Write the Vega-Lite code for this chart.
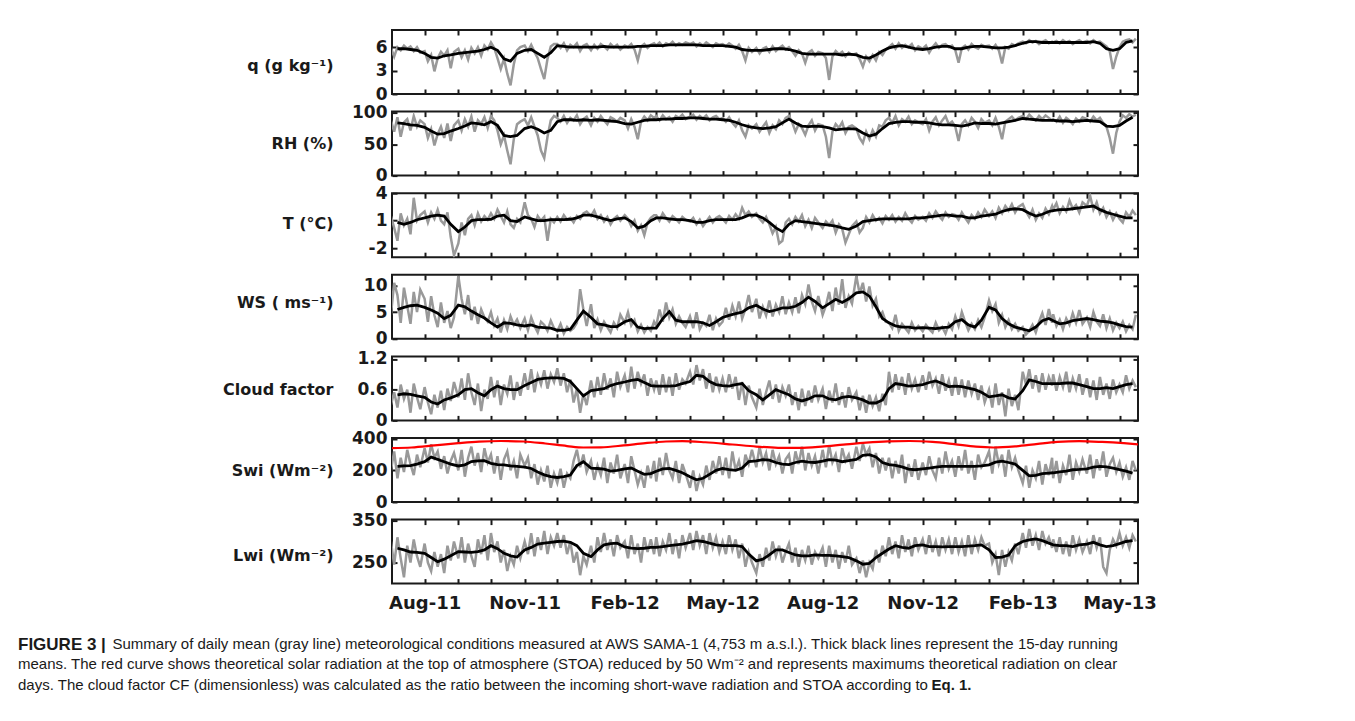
{
"$schema": "https://vega.github.io/schema/vega-lite/v6.json",
"background": "white",
"padding": {"left": 18, "top": 28, "right": 10, "bottom": 10},
"bounds": "flush",
"spacing": 17.6,
"title": {
 "text": "FIGURE 3 |",
 "subtitle": ["means. The red curve shows theoretical solar radiation at the top of atmosphere (STOA) reduced by 50 Wm\u207b\u00b2 and represents maximums theoretical radiation on clear", "days. The cloud factor CF (dimensionless) was calculated as the ratio between the incoming short-wave radiation and STOA according to"],
 "orient": "bottom", "anchor": "start", "frame": "group", "dx": -374, "offset": -56,
 "font": "Liberation Sans", "fontSize": 17, "fontWeight": "bold", "color": "#1a1a1a",
 "subtitleFont": "Liberation Sans", "subtitleFontSize": 15, "subtitleColor": "#1a1a1a", "subtitleLineHeight": 21, "subtitlePadding": 3
},
"datasets": {
"d": [
{"t":"2011-07-01","q":5.9,"rh":88,"ta":1.5,"ws":4.5,"cf":0.30,"sw":200,"lw":300},
{"t":"2011-07-04","q":4.8,"rh":70,"ta":0.2,"ws":10.5,"cf":0.55,"sw":320,"lw":245},
{"t":"2011-07-07","q":6.0,"rh":93,"ta":-1.2,"ws":8.2,"cf":0.25,"sw":150,"lw":310},
{"t":"2011-07-10","q":5.6,"rh":62,"ta":1.8,"ws":3.0,"cf":0.70,"sw":280,"lw":260},
{"t":"2011-07-13","q":6.2,"rh":85,"ta":0.5,"ws":9.6,"cf":0.42,"sw":190,"lw":215},
{"t":"2011-07-16","q":5.8,"rh":90,"ta":1.2,"ws":6.2,"cf":0.60,"sw":330,"lw":290},
{"t":"2011-07-19","q":6.1,"rh":72,"ta":-0.5,"ws":2.8,"cf":0.15,"sw":240,"lw":250},
{"t":"2011-07-22","q":5.5,"rh":95,"ta":3.5,"ws":8.8,"cf":0.72,"sw":170,"lw":305},
{"t":"2011-07-25","q":6.0,"rh":78,"ta":1.0,"ws":5.0,"cf":0.45,"sw":300,"lw":265},
{"t":"2011-07-28","q":5.3,"rh":88,"ta":1.6,"ws":9.2,"cf":0.22,"sw":220,"lw":240},
{"t":"2011-08-01","q":5.5,"rh":82,"ta":2.0,"ws":7.5,"cf":0.65,"sw":340,"lw":295},
{"t":"2011-08-04","q":4.2,"rh":60,"ta":0.8,"ws":3.2,"cf":0.35,"sw":250,"lw":250},
{"t":"2011-08-07","q":5.0,"rh":74,"ta":1.9,"ws":8.0,"cf":0.12,"sw":365,"lw":230},
{"t":"2011-08-10","q":2.9,"rh":48,"ta":1.2,"ws":4.4,"cf":0.50,"sw":280,"lw":275},
{"t":"2011-08-13","q":4.6,"rh":66,"ta":2.2,"ws":2.2,"cf":0.25,"sw":320,"lw":240},
{"t":"2011-08-16","q":5.4,"rh":78,"ta":1.0,"ws":6.8,"cf":0.58,"sw":210,"lw":270},
{"t":"2011-08-19","q":4.9,"rh":60,"ta":0.6,"ws":3.0,"cf":0.20,"sw":290,"lw":225},
{"t":"2011-08-22","q":5.6,"rh":83,"ta":1.9,"ws":5.2,"cf":0.62,"sw":180,"lw":290},
{"t":"2011-08-25","q":3.3,"rh":55,"ta":-0.8,"ws":2.0,"cf":0.38,"sw":260,"lw":255},
{"t":"2011-08-28","q":5.4,"rh":80,"ta":-2.8,"ws":4.0,"cf":0.75,"sw":310,"lw":300},
{"t":"2011-09-01","q":5.8,"rh":88,"ta":-1.5,"ws":11.8,"cf":0.45,"sw":200,"lw":260},
{"t":"2011-09-04","q":4.7,"rh":72,"ta":0.8,"ws":7.5,"cf":0.82,"sw":330,"lw":310},
{"t":"2011-09-07","q":5.6,"rh":90,"ta":-0.6,"ws":4.6,"cf":0.40,"sw":160,"lw":250},
{"t":"2011-09-10","q":4.4,"rh":78,"ta":1.2,"ws":8.2,"cf":0.92,"sw":280,"lw":295},
{"t":"2011-09-13","q":5.9,"rh":94,"ta":1.6,"ws":3.5,"cf":0.55,"sw":350,"lw":265},
{"t":"2011-09-16","q":5.2,"rh":70,"ta":0.5,"ws":6.0,"cf":0.30,"sw":230,"lw":240},
{"t":"2011-09-19","q":6.0,"rh":88,"ta":1.8,"ws":2.8,"cf":0.72,"sw":310,"lw":305},
{"t":"2011-09-22","q":4.9,"rh":82,"ta":0.9,"ws":5.5,"cf":0.18,"sw":190,"lw":270},
{"t":"2011-09-25","q":6.2,"rh":93,"ta":1.5,"ws":4.0,"cf":0.60,"sw":340,"lw":315},
{"t":"2011-09-28","q":5.7,"rh":76,"ta":1.1,"ws":3.2,"cf":0.42,"sw":250,"lw":255},
{"t":"2011-10-01","q":6.6,"rh":95,"ta":1.8,"ws":5.0,"cf":0.85,"sw":300,"lw":320},
{"t":"2011-10-04","q":5.9,"rh":88,"ta":1.2,"ws":2.5,"cf":0.45,"sw":180,"lw":275},
{"t":"2011-10-07","q":4.6,"rh":72,"ta":2.2,"ws":3.8,"cf":0.78,"sw":290,"lw":300},
{"t":"2011-10-10","q":3.2,"rh":50,"ta":1.5,"ws":1.2,"cf":0.30,"sw":140,"lw":250},
{"t":"2011-10-13","q":4.5,"rh":64,"ta":0.8,"ws":3.5,"cf":0.70,"sw":270,"lw":280},
{"t":"2011-10-16","q":2.6,"rh":40,"ta":2.0,"ws":1.8,"cf":0.52,"sw":320,"lw":230},
{"t":"2011-10-19","q":1.1,"rh":18,"ta":0.6,"ws":4.2,"cf":0.88,"sw":200,"lw":265},
{"t":"2011-10-22","q":3.8,"rh":58,"ta":0.2,"ws":2.6,"cf":0.40,"sw":260,"lw":245},
{"t":"2011-10-25","q":5.6,"rh":82,"ta":1.2,"ws":3.6,"cf":0.75,"sw":150,"lw":290},
{"t":"2011-10-28","q":6.0,"rh":86,"ta":0.8,"ws":2.0,"cf":0.48,"sw":300,"lw":260},
{"t":"2011-11-01","q":6.2,"rh":90,"ta":3.0,"ws":3.8,"cf":0.92,"sw":230,"lw":300},
{"t":"2011-11-04","q":5.5,"rh":80,"ta":1.6,"ws":1.6,"cf":0.60,"sw":280,"lw":270},
{"t":"2011-11-07","q":6.3,"rh":93,"ta":1.2,"ws":4.0,"cf":1.00,"sw":150,"lw":320},
{"t":"2011-11-10","q":5.4,"rh":78,"ta":0.3,"ws":2.4,"cf":0.55,"sw":240,"lw":265},
{"t":"2011-11-13","q":4.6,"rh":64,"ta":1.5,"ws":1.2,"cf":0.88,"sw":110,"lw":310},
{"t":"2011-11-16","q":3.2,"rh":40,"ta":1.0,"ws":3.2,"cf":0.70,"sw":200,"lw":280},
{"t":"2011-11-19","q":1.9,"rh":28,"ta":1.4,"ws":2.6,"cf":0.98,"sw":130,"lw":325},
{"t":"2011-11-22","q":4.5,"rh":62,"ta":-1.2,"ws":1.5,"cf":0.62,"sw":230,"lw":270},
{"t":"2011-11-25","q":6.1,"rh":88,"ta":1.2,"ws":3.4,"cf":0.90,"sw":90,"lw":310},
{"t":"2011-11-28","q":6.4,"rh":95,"ta":0.8,"ws":2.0,"cf":0.75,"sw":180,"lw":290},
{"t":"2011-12-01","q":6.4,"rh":92,"ta":1.4,"ws":1.4,"cf":1.02,"sw":120,"lw":320},
{"t":"2011-12-04","q":5.9,"rh":86,"ta":0.9,"ws":2.8,"cf":0.68,"sw":210,"lw":285},
{"t":"2011-12-07","q":6.5,"rh":95,"ta":1.6,"ws":1.0,"cf":0.92,"sw":90,"lw":315},
{"t":"2011-12-10","q":5.6,"rh":84,"ta":1.1,"ws":2.2,"cf":0.55,"sw":180,"lw":270},
{"t":"2011-12-13","q":6.3,"rh":92,"ta":1.3,"ws":1.5,"cf":0.80,"sw":150,"lw":300},
{"t":"2011-12-16","q":6.0,"rh":88,"ta":0.8,"ws":2.0,"cf":0.35,"sw":260,"lw":250},
{"t":"2011-12-19","q":6.5,"rh":96,"ta":1.5,"ws":3.0,"cf":0.62,"sw":330,"lw":275},
{"t":"2011-12-22","q":5.5,"rh":82,"ta":1.2,"ws":9.3,"cf":0.15,"sw":220,"lw":220},
{"t":"2011-12-25","q":6.2,"rh":90,"ta":1.8,"ws":5.5,"cf":0.52,"sw":300,"lw":265},
{"t":"2011-12-28","q":6.4,"rh":94,"ta":2.0,"ws":2.4,"cf":0.30,"sw":190,"lw":245},
{"t":"2012-01-01","q":5.6,"rh":80,"ta":1.5,"ws":6.5,"cf":0.78,"sw":260,"lw":290},
{"t":"2012-01-04","q":6.3,"rh":92,"ta":2.1,"ws":2.0,"cf":0.45,"sw":140,"lw":250},
{"t":"2012-01-07","q":5.8,"rh":86,"ta":1.2,"ws":3.6,"cf":0.85,"sw":230,"lw":310},
{"t":"2012-01-10","q":6.4,"rh":95,"ta":1.6,"ws":1.6,"cf":0.50,"sw":170,"lw":275},
{"t":"2012-01-13","q":6.1,"rh":88,"ta":0.9,"ws":3.2,"cf":0.92,"sw":280,"lw":320},
{"t":"2012-01-16","q":5.7,"rh":82,"ta":1.4,"ws":2.2,"cf":0.60,"sw":120,"lw":280},
{"t":"2012-01-19","q":6.4,"rh":93,"ta":0.6,"ws":1.2,"cf":0.82,"sw":250,"lw":305},
{"t":"2012-01-22","q":6.0,"rh":90,"ta":1.2,"ws":3.0,"cf":0.45,"sw":180,"lw":265},
{"t":"2012-01-25","q":6.3,"rh":86,"ta":1.5,"ws":2.0,"cf":0.95,"sw":300,"lw":315},
{"t":"2012-01-28","q":5.7,"rh":92,"ta":1.0,"ws":4.5,"cf":0.65,"sw":150,"lw":285},
{"t":"2012-02-01","q":6.2,"rh":88,"ta":1.6,"ws":3.0,"cf":0.88,"sw":240,"lw":300},
{"t":"2012-02-04","q":6.0,"rh":75,"ta":1.2,"ws":5.0,"cf":0.55,"sw":120,"lw":260},
{"t":"2012-02-07","q":6.4,"rh":90,"ta":0.4,"ws":2.5,"cf":1.05,"sw":290,"lw":315},
{"t":"2012-02-10","q":5.7,"rh":78,"ta":1.0,"ws":3.5,"cf":0.62,"sw":200,"lw":270},
{"t":"2012-02-13","q":4.3,"rh":58,"ta":-0.1,"ws":1.4,"cf":0.95,"sw":110,"lw":295},
{"t":"2012-02-16","q":6.1,"rh":86,"ta":0.5,"ws":2.6,"cf":0.72,"sw":180,"lw":250},
{"t":"2012-02-19","q":6.4,"rh":94,"ta":-0.6,"ws":1.2,"cf":0.90,"sw":90,"lw":310},
{"t":"2012-02-22","q":5.9,"rh":88,"ta":0.8,"ws":2.2,"cf":0.48,"sw":230,"lw":275},
{"t":"2012-02-25","q":6.3,"rh":96,"ta":1.3,"ws":1.5,"cf":0.82,"sw":150,"lw":305},
{"t":"2012-02-28","q":6.5,"rh":92,"ta":1.6,"ws":3.2,"cf":0.60,"sw":260,"lw":270},
{"t":"2012-03-01","q":6.2,"rh":95,"ta":1.6,"ws":2.4,"cf":0.78,"sw":130,"lw":310},
{"t":"2012-03-04","q":6.6,"rh":88,"ta":1.0,"ws":5.5,"cf":0.50,"sw":280,"lw":265},
{"t":"2012-03-07","q":6.1,"rh":96,"ta":1.8,"ws":3.2,"cf":0.90,"sw":170,"lw":300},
{"t":"2012-03-10","q":6.5,"rh":90,"ta":1.3,"ws":6.8,"cf":0.55,"sw":310,"lw":280},
{"t":"2012-03-13","q":6.3,"rh":93,"ta":0.9,"ws":4.0,"cf":0.85,"sw":200,"lw":320},
{"t":"2012-03-16","q":6.7,"rh":86,"ta":1.5,"ws":5.5,"cf":0.48,"sw":150,"lw":270},
{"t":"2012-03-19","q":6.2,"rh":95,"ta":1.2,"ws":2.8,"cf":0.92,"sw":260,"lw":305},
{"t":"2012-03-22","q":6.5,"rh":92,"ta":0.8,"ws":4.2,"cf":0.60,"sw":120,"lw":260},
{"t":"2012-03-25","q":6.3,"rh":97,"ta":1.4,"ws":3.0,"cf":0.80,"sw":240,"lw":315},
{"t":"2012-03-28","q":6.6,"rh":90,"ta":1.1,"ws":2.2,"cf":0.72,"sw":180,"lw":285},
{"t":"2012-04-01","q":6.4,"rh":94,"ta":0.9,"ws":4.2,"cf":0.95,"sw":90,"lw":320},
{"t":"2012-04-04","q":6.6,"rh":97,"ta":1.3,"ws":2.0,"cf":0.70,"sw":200,"lw":280},
{"t":"2012-04-07","q":6.1,"rh":89,"ta":0.6,"ws":5.0,"cf":1.08,"sw":70,"lw":325},
{"t":"2012-04-10","q":6.5,"rh":95,"ta":1.1,"ws":1.8,"cf":0.78,"sw":160,"lw":290},
{"t":"2012-04-13","q":6.2,"rh":91,"ta":0.4,"ws":3.0,"cf":1.00,"sw":110,"lw":315},
{"t":"2012-04-16","q":6.6,"rh":96,"ta":0.9,"ws":2.4,"cf":0.62,"sw":230,"lw":270},
{"t":"2012-04-19","q":6.3,"rh":88,"ta":1.4,"ws":4.5,"cf":0.92,"sw":140,"lw":320},
{"t":"2012-04-22","q":6.0,"rh":93,"ta":0.8,"ws":1.6,"cf":0.55,"sw":260,"lw":285},
{"t":"2012-04-25","q":6.5,"rh":95,"ta":1.3,"ws":3.8,"cf":0.85,"sw":180,"lw":310},
{"t":"2012-04-28","q":6.3,"rh":90,"ta":1.5,"ws":2.5,"cf":0.60,"sw":290,"lw":275},
{"t":"2012-05-01","q":6.4,"rh":92,"ta":1.2,"ws":3.2,"cf":0.82,"sw":170,"lw":300},
{"t":"2012-05-04","q":6.1,"rh":86,"ta":0.8,"ws":5.8,"cf":0.55,"sw":280,"lw":270},
{"t":"2012-05-07","q":6.5,"rh":93,"ta":1.5,"ws":3.6,"cf":0.90,"sw":150,"lw":315},
{"t":"2012-05-10","q":6.2,"rh":84,"ta":1.1,"ws":6.2,"cf":0.62,"sw":320,"lw":280},
{"t":"2012-05-13","q":5.8,"rh":78,"ta":1.7,"ws":4.2,"cf":0.85,"sw":200,"lw":305},
{"t":"2012-05-16","q":6.3,"rh":88,"ta":1.2,"ws":7.0,"cf":0.40,"sw":260,"lw":260},
{"t":"2012-05-19","q":5.5,"rh":72,"ta":2.4,"ws":3.8,"cf":0.75,"sw":160,"lw":295},
{"t":"2012-05-22","q":4.3,"rh":62,"ta":1.6,"ws":5.6,"cf":0.30,"sw":300,"lw":240},
{"t":"2012-05-25","q":5.9,"rh":80,"ta":2.0,"ws":8.2,"cf":0.68,"sw":240,"lw":275},
{"t":"2012-05-28","q":5.4,"rh":75,"ta":1.4,"ws":5.0,"cf":0.45,"sw":330,"lw":250},
{"t":"2012-06-01","q":5.9,"rh":82,"ta":1.8,"ws":7.5,"cf":0.25,"sw":220,"lw":225},
{"t":"2012-06-04","q":5.2,"rh":70,"ta":1.2,"ws":3.8,"cf":0.62,"sw":350,"lw":270},
{"t":"2012-06-07","q":5.8,"rh":78,"ta":0.8,"ws":6.0,"cf":0.30,"sw":250,"lw":240},
{"t":"2012-06-10","q":6.0,"rh":85,"ta":1.4,"ws":4.4,"cf":0.55,"sw":310,"lw":285},
{"t":"2012-06-13","q":5.4,"rh":68,"ta":0.6,"ws":7.2,"cf":0.78,"sw":200,"lw":255},
{"t":"2012-06-16","q":6.1,"rh":80,"ta":-0.4,"ws":4.2,"cf":0.42,"sw":330,"lw":300},
{"t":"2012-06-19","q":5.5,"rh":74,"ta":0.3,"ws":6.4,"cf":0.70,"sw":240,"lw":265},
{"t":"2012-06-22","q":5.9,"rh":88,"ta":-1.5,"ws":5.0,"cf":0.35,"sw":290,"lw":290},
{"t":"2012-06-25","q":6.2,"rh":82,"ta":-1.2,"ws":8.0,"cf":0.65,"sw":180,"lw":250},
{"t":"2012-06-28","q":5.7,"rh":92,"ta":0.8,"ws":4.6,"cf":0.48,"sw":270,"lw":275},
{"t":"2012-07-01","q":6.0,"rh":95,"ta":1.2,"ws":6.8,"cf":0.70,"sw":300,"lw":295},
{"t":"2012-07-04","q":5.5,"rh":85,"ta":0.6,"ws":5.0,"cf":0.30,"sw":180,"lw":250},
{"t":"2012-07-07","q":4.9,"rh":70,"ta":1.4,"ws":7.8,"cf":0.55,"sw":320,"lw":285},
{"t":"2012-07-10","q":5.6,"rh":82,"ta":0.9,"ws":4.8,"cf":0.20,"sw":240,"lw":240},
{"t":"2012-07-13","q":5.2,"rh":76,"ta":1.6,"ws":8.2,"cf":0.62,"sw":350,"lw":280},
{"t":"2012-07-16","q":4.0,"rh":65,"ta":0.4,"ws":6.5,"cf":0.28,"sw":200,"lw":255},
{"t":"2012-07-19","q":5.3,"rh":80,"ta":1.1,"ws":10.2,"cf":0.58,"sw":310,"lw":290},
{"t":"2012-07-22","q":5.6,"rh":88,"ta":0.2,"ws":7.0,"cf":0.35,"sw":230,"lw":245},
{"t":"2012-07-25","q":4.9,"rh":72,"ta":1.3,"ws":5.2,"cf":0.68,"sw":290,"lw":275},
{"t":"2012-07-28","q":5.4,"rh":82,"ta":0.8,"ws":8.0,"cf":0.40,"sw":180,"lw":260},
{"t":"2012-08-01","q":5.2,"rh":80,"ta":0.2,"ws":4.5,"cf":0.62,"sw":330,"lw":285},
{"t":"2012-08-04","q":4.6,"rh":62,"ta":0.9,"ws":6.2,"cf":0.22,"sw":220,"lw":240},
{"t":"2012-08-07","q":1.8,"rh":28,"ta":0.5,"ws":8.8,"cf":0.58,"sw":360,"lw":290},
{"t":"2012-08-10","q":4.8,"rh":70,"ta":1.0,"ws":5.2,"cf":0.35,"sw":250,"lw":250},
{"t":"2012-08-13","q":5.5,"rh":82,"ta":-0.3,"ws":9.6,"cf":0.72,"sw":300,"lw":280},
{"t":"2012-08-16","q":5.1,"rh":76,"ta":0.6,"ws":6.4,"cf":0.30,"sw":190,"lw":235},
{"t":"2012-08-19","q":5.4,"rh":85,"ta":0.1,"ws":11.2,"cf":0.55,"sw":340,"lw":275},
{"t":"2012-08-22","q":4.8,"rh":68,"ta":-1.4,"ws":5.8,"cf":0.25,"sw":260,"lw":250},
{"t":"2012-08-25","q":5.3,"rh":78,"ta":-0.5,"ws":8.0,"cf":0.65,"sw":300,"lw":290},
{"t":"2012-08-28","q":5.0,"rh":80,"ta":0.4,"ws":6.6,"cf":0.40,"sw":210,"lw":245},
{"t":"2012-09-01","q":5.2,"rh":75,"ta":0.9,"ws":11.8,"cf":0.55,"sw":350,"lw":260},
{"t":"2012-09-04","q":4.5,"rh":60,"ta":-0.3,"ws":8.5,"cf":0.20,"sw":260,"lw":225},
{"t":"2012-09-07","q":3.5,"rh":52,"ta":0.2,"ws":10.5,"cf":0.48,"sw":370,"lw":255},
{"t":"2012-09-10","q":4.8,"rh":70,"ta":1.4,"ws":7.0,"cf":0.15,"sw":300,"lw":215},
{"t":"2012-09-13","q":4.2,"rh":58,"ta":0.8,"ws":9.8,"cf":0.50,"sw":340,"lw":250},
{"t":"2012-09-16","q":5.0,"rh":72,"ta":1.6,"ws":6.2,"cf":0.28,"sw":220,"lw":235},
{"t":"2012-09-19","q":4.3,"rh":62,"ta":1.0,"ws":7.5,"cf":0.45,"sw":310,"lw":280},
{"t":"2012-09-22","q":5.4,"rh":80,"ta":1.3,"ws":4.2,"cf":0.18,"sw":180,"lw":250},
{"t":"2012-09-25","q":5.0,"rh":78,"ta":0.7,"ws":5.0,"cf":0.52,"sw":280,"lw":290},
{"t":"2012-09-28","q":5.7,"rh":88,"ta":1.5,"ws":3.2,"cf":0.30,"sw":200,"lw":265},
{"t":"2012-10-01","q":6.0,"rh":92,"ta":1.1,"ws":3.0,"cf":0.95,"sw":280,"lw":310},
{"t":"2012-10-04","q":6.4,"rh":84,"ta":1.6,"ws":2.0,"cf":0.55,"sw":150,"lw":270},
{"t":"2012-10-07","q":5.8,"rh":95,"ta":0.9,"ws":4.5,"cf":0.90,"sw":260,"lw":300},
{"t":"2012-10-10","q":6.5,"rh":80,"ta":1.4,"ws":1.5,"cf":0.60,"sw":180,"lw":260},
{"t":"2012-10-13","q":5.9,"rh":90,"ta":1.0,"ws":2.8,"cf":0.85,"sw":300,"lw":315},
{"t":"2012-10-16","q":6.3,"rh":86,"ta":1.8,"ws":2.0,"cf":0.50,"sw":120,"lw":275},
{"t":"2012-10-19","q":6.0,"rh":94,"ta":1.2,"ws":1.2,"cf":0.92,"sw":240,"lw":305},
{"t":"2012-10-22","q":6.4,"rh":82,"ta":0.8,"ws":3.0,"cf":0.62,"sw":160,"lw":265},
{"t":"2012-10-25","q":5.6,"rh":88,"ta":1.5,"ws":1.6,"cf":0.80,"sw":270,"lw":310},
{"t":"2012-10-28","q":6.1,"rh":85,"ta":1.1,"ws":2.4,"cf":0.55,"sw":140,"lw":280},
{"t":"2012-11-01","q":5.8,"rh":82,"ta":1.4,"ws":1.4,"cf":0.88,"sw":250,"lw":305},
{"t":"2012-11-04","q":6.2,"rh":90,"ta":1.0,"ws":2.6,"cf":0.60,"sw":170,"lw":270},
{"t":"2012-11-07","q":5.3,"rh":72,"ta":1.8,"ws":1.8,"cf":0.95,"sw":290,"lw":315},
{"t":"2012-11-10","q":6.0,"rh":86,"ta":1.3,"ws":1.2,"cf":0.68,"sw":200,"lw":275},
{"t":"2012-11-13","q":6.5,"rh":93,"ta":2.0,"ws":3.0,"cf":0.82,"sw":150,"lw":300},
{"t":"2012-11-16","q":5.9,"rh":80,"ta":1.5,"ws":1.6,"cf":0.52,"sw":280,"lw":265},
{"t":"2012-11-19","q":6.3,"rh":88,"ta":1.1,"ws":2.2,"cf":0.90,"sw":180,"lw":310},
{"t":"2012-11-22","q":6.4,"rh":95,"ta":1.9,"ws":1.0,"cf":0.58,"sw":320,"lw":280},
{"t":"2012-11-25","q":6.0,"rh":82,"ta":1.4,"ws":2.8,"cf":0.78,"sw":210,"lw":305},
{"t":"2012-11-28","q":6.2,"rh":86,"ta":1.7,"ws":1.8,"cf":0.48,"sw":260,"lw":270},
{"t":"2012-12-01","q":5.6,"rh":78,"ta":1.6,"ws":4.2,"cf":0.85,"sw":160,"lw":310},
{"t":"2012-12-04","q":4.0,"rh":55,"ta":1.1,"ws":2.4,"cf":0.50,"sw":290,"lw":275},
{"t":"2012-12-07","q":5.9,"rh":82,"ta":1.9,"ws":5.0,"cf":0.80,"sw":200,"lw":300},
{"t":"2012-12-10","q":6.2,"rh":88,"ta":1.3,"ws":3.2,"cf":0.45,"sw":330,"lw":265},
{"t":"2012-12-13","q":5.7,"rh":80,"ta":0.8,"ws":1.6,"cf":0.78,"sw":180,"lw":315},
{"t":"2012-12-16","q":6.4,"rh":92,"ta":1.6,"ws":2.8,"cf":0.52,"sw":260,"lw":270},
{"t":"2012-12-19","q":6.0,"rh":86,"ta":1.2,"ws":1.8,"cf":0.72,"sw":140,"lw":305},
{"t":"2012-12-22","q":5.8,"rh":76,"ta":1.9,"ws":3.5,"cf":0.40,"sw":300,"lw":280},
{"t":"2012-12-25","q":6.3,"rh":90,"ta":1.4,"ws":2.2,"cf":0.68,"sw":220,"lw":310},
{"t":"2012-12-28","q":6.1,"rh":84,"ta":2.2,"ws":4.0,"cf":0.35,"sw":250,"lw":290},
{"t":"2013-01-01","q":6.2,"rh":88,"ta":1.5,"ws":7.2,"cf":0.60,"sw":320,"lw":295},
{"t":"2013-01-04","q":5.8,"rh":80,"ta":2.0,"ws":5.2,"cf":0.25,"sw":180,"lw":250},
{"t":"2013-01-07","q":6.3,"rh":92,"ta":1.3,"ws":6.5,"cf":0.72,"sw":350,"lw":270},
{"t":"2013-01-10","q":5.6,"rh":78,"ta":2.4,"ws":3.0,"cf":0.30,"sw":240,"lw":220},
{"t":"2013-01-13","q":3.9,"rh":58,"ta":1.8,"ws":4.5,"cf":0.55,"sw":300,"lw":280},
{"t":"2013-01-16","q":6.0,"rh":86,"ta":2.6,"ws":2.2,"cf":0.08,"sw":160,"lw":240},
{"t":"2013-01-19","q":5.8,"rh":90,"ta":2.1,"ws":3.5,"cf":0.62,"sw":330,"lw":275},
{"t":"2013-01-22","q":6.4,"rh":94,"ta":2.8,"ws":1.8,"cf":0.28,"sw":220,"lw":255},
{"t":"2013-01-25","q":6.2,"rh":88,"ta":1.9,"ws":2.8,"cf":0.50,"sw":280,"lw":295},
{"t":"2013-01-28","q":6.5,"rh":92,"ta":2.5,"ws":1.5,"cf":0.20,"sw":200,"lw":270},
{"t":"2013-02-01","q":6.7,"rh":95,"ta":2.8,"ws":2.2,"cf":0.95,"sw":120,"lw":320},
{"t":"2013-02-04","q":6.5,"rh":90,"ta":2.0,"ws":0.8,"cf":0.70,"sw":230,"lw":285},
{"t":"2013-02-07","q":6.9,"rh":97,"ta":1.4,"ws":1.5,"cf":1.00,"sw":90,"lw":330},
{"t":"2013-02-10","q":6.6,"rh":92,"ta":2.2,"ws":2.6,"cf":0.62,"sw":200,"lw":290},
{"t":"2013-02-13","q":6.8,"rh":88,"ta":1.1,"ws":1.2,"cf":0.88,"sw":150,"lw":315},
{"t":"2013-02-16","q":6.4,"rh":95,"ta":1.8,"ws":3.2,"cf":0.55,"sw":260,"lw":280},
{"t":"2013-02-19","q":6.7,"rh":90,"ta":1.3,"ws":4.8,"cf":0.92,"sw":110,"lw":325},
{"t":"2013-02-22","q":6.9,"rh":96,"ta":2.3,"ws":2.6,"cf":0.60,"sw":240,"lw":295},
{"t":"2013-02-25","q":6.5,"rh":92,"ta":1.7,"ws":5.6,"cf":0.85,"sw":170,"lw":310},
{"t":"2013-02-28","q":6.7,"rh":88,"ta":2.6,"ws":3.0,"cf":0.68,"sw":280,"lw":285},
{"t":"2013-03-01","q":6.6,"rh":90,"ta":2.2,"ws":4.6,"cf":0.90,"sw":150,"lw":305},
{"t":"2013-03-04","q":6.8,"rh":86,"ta":2.9,"ws":2.4,"cf":0.58,"sw":260,"lw":275},
{"t":"2013-03-07","q":6.5,"rh":94,"ta":1.8,"ws":3.6,"cf":0.85,"sw":120,"lw":310},
{"t":"2013-03-10","q":6.9,"rh":84,"ta":2.5,"ws":1.8,"cf":0.65,"sw":230,"lw":270},
{"t":"2013-03-13","q":6.6,"rh":92,"ta":2.0,"ws":3.8,"cf":0.95,"sw":170,"lw":300},
{"t":"2013-03-16","q":6.8,"rh":88,"ta":3.2,"ws":2.6,"cf":0.55,"sw":300,"lw":265},
{"t":"2013-03-19","q":6.4,"rh":82,"ta":2.3,"ws":4.8,"cf":0.82,"sw":140,"lw":315},
{"t":"2013-03-22","q":6.7,"rh":91,"ta":2.7,"ws":3.0,"cf":0.62,"sw":250,"lw":280},
{"t":"2013-03-25","q":6.9,"rh":86,"ta":1.9,"ws":5.4,"cf":0.90,"sw":190,"lw":305},
{"t":"2013-03-28","q":6.6,"rh":93,"ta":3.0,"ws":2.8,"cf":0.50,"sw":270,"lw":275},
{"t":"2013-04-01","q":6.8,"rh":90,"ta":2.6,"ws":4.0,"cf":0.82,"sw":180,"lw":300},
{"t":"2013-04-04","q":6.5,"rh":86,"ta":3.7,"ws":2.2,"cf":0.45,"sw":300,"lw":270},
{"t":"2013-04-07","q":6.9,"rh":94,"ta":2.2,"ws":5.0,"cf":0.78,"sw":150,"lw":315},
{"t":"2013-04-10","q":6.6,"rh":88,"ta":3.0,"ws":3.2,"cf":0.40,"sw":270,"lw":285},
{"t":"2013-04-13","q":6.7,"rh":92,"ta":1.8,"ws":2.4,"cf":0.85,"sw":200,"lw":310},
{"t":"2013-04-16","q":6.4,"rh":84,"ta":2.4,"ws":4.6,"cf":0.50,"sw":320,"lw":240},
{"t":"2013-04-19","q":6.1,"rh":78,"ta":1.4,"ws":2.0,"cf":0.72,"sw":160,"lw":225},
{"t":"2013-04-22","q":5.5,"rh":60,"ta":2.0,"ws":3.8,"cf":0.42,"sw":240,"lw":280},
{"t":"2013-04-25","q":3.2,"rh":35,"ta":1.1,"ws":1.6,"cf":0.80,"sw":280,"lw":305},
{"t":"2013-04-28","q":4.8,"rh":68,"ta":1.8,"ws":3.0,"cf":0.55,"sw":190,"lw":290},
{"t":"2013-05-01","q":6.0,"rh":86,"ta":1.2,"ws":2.0,"cf":0.70,"sw":250,"lw":320},
{"t":"2013-05-04","q":6.7,"rh":96,"ta":0.8,"ws":3.2,"cf":0.55,"sw":160,"lw":290},
{"t":"2013-05-07","q":6.9,"rh":92,"ta":1.9,"ws":1.4,"cf":0.88,"sw":220,"lw":310},
{"t":"2013-05-10","q":7.0,"rh":98,"ta":1.4,"ws":2.6,"cf":0.62,"sw":140,"lw":285},
{"t":"2013-05-13","q":6.6,"rh":94,"ta":2.1,"ws":1.8,"cf":0.78,"sw":260,"lw":315},
{"t":"2013-05-16","q":7.1,"rh":97,"ta":1.6,"ws":4.5,"cf":0.65,"sw":200,"lw":300}
],
"m": [
{"t":"2011-07-07","q":5.8,"rh":84,"ta":0.8,"ws":5.5,"cf":0.50,"sw":226,"lw":284},
{"t":"2011-07-13","q":5.8,"rh":83,"ta":0.6,"ws":5.9,"cf":0.52,"sw":228,"lw":280},
{"t":"2011-07-19","q":5.7,"rh":81,"ta":0.8,"ws":6.2,"cf":0.51,"sw":230,"lw":275},
{"t":"2011-07-25","q":5.6,"rh":80,"ta":1.1,"ws":6.3,"cf":0.48,"sw":240,"lw":274},
{"t":"2011-08-01","q":5.2,"rh":77,"ta":1.3,"ws":5.9,"cf":0.45,"sw":255,"lw":272},
{"t":"2011-08-07","q":4.7,"rh":71,"ta":1.5,"ws":5.4,"cf":0.36,"sw":284,"lw":262},
{"t":"2011-08-13","q":4.6,"rh":66,"ta":1.6,"ws":4.8,"cf":0.32,"sw":270,"lw":252},
{"t":"2011-08-19","q":4.9,"rh":67,"ta":1.5,"ws":3.8,"cf":0.40,"sw":255,"lw":258},
{"t":"2011-08-25","q":5.0,"rh":71,"ta":0.6,"ws":4.4,"cf":0.44,"sw":240,"lw":266},
{"t":"2011-09-01","q":5.2,"rh":75,"ta":-0.2,"ws":6.3,"cf":0.50,"sw":228,"lw":276},
{"t":"2011-09-07","q":5.3,"rh":79,"ta":0.3,"ws":6.0,"cf":0.60,"sw":235,"lw":275},
{"t":"2011-09-13","q":5.4,"rh":84,"ta":1.0,"ws":5.2,"cf":0.62,"sw":256,"lw":274},
{"t":"2011-09-19","q":5.5,"rh":83,"ta":1.1,"ws":4.5,"cf":0.54,"sw":260,"lw":276},
{"t":"2011-09-25","q":5.7,"rh":81,"ta":1.1,"ws":3.9,"cf":0.48,"sw":262,"lw":280},
{"t":"2011-10-01","q":6.0,"rh":86,"ta":1.15,"ws":3.0,"cf":0.60,"sw":245,"lw":290},
{"t":"2011-10-07","q":5.6,"rh":80,"ta":1.5,"ws":2.2,"cf":0.67,"sw":237,"lw":283},
{"t":"2011-10-13","q":4.5,"rh":64,"ta":1.6,"ws":3.0,"cf":0.62,"sw":235,"lw":272},
{"t":"2011-10-19","q":4.2,"rh":62,"ta":1.0,"ws":2.9,"cf":0.60,"sw":228,"lw":266},
{"t":"2011-10-25","q":5.2,"rh":64,"ta":0.9,"ws":2.6,"cf":0.60,"sw":226,"lw":263},
{"t":"2011-11-01","q":5.6,"rh":75,"ta":1.4,"ws":2.4,"cf":0.68,"sw":220,"lw":280},
{"t":"2011-11-07","q":5.7,"rh":78,"ta":1.2,"ws":2.6,"cf":0.74,"sw":212,"lw":286},
{"t":"2011-11-13","q":5.2,"rh":74,"ta":1.0,"ws":2.2,"cf":0.80,"sw":190,"lw":294},
{"t":"2011-11-19","q":4.7,"rh":68,"ta":1.0,"ws":2.1,"cf":0.82,"sw":172,"lw":296},
{"t":"2011-11-25","q":5.3,"rh":72,"ta":1.1,"ws":2.0,"cf":0.83,"sw":160,"lw":298},
{"t":"2011-12-01","q":6.2,"rh":86,"ta":1.1,"ws":1.6,"cf":0.83,"sw":155,"lw":300},
{"t":"2011-12-07","q":6.1,"rh":89,"ta":1.1,"ws":1.6,"cf":0.82,"sw":160,"lw":301},
{"t":"2011-12-13","q":6.0,"rh":89,"ta":1.15,"ws":1.8,"cf":0.76,"sw":170,"lw":298},
{"t":"2011-12-19","q":6.0,"rh":88,"ta":1.3,"ws":3.5,"cf":0.62,"sw":230,"lw":290},
{"t":"2011-12-25","q":6.0,"rh":89,"ta":1.6,"ws":5.2,"cf":0.48,"sw":255,"lw":272},
{"t":"2012-01-01","q":6.0,"rh":88,"ta":1.6,"ws":4.0,"cf":0.58,"sw":215,"lw":264},
{"t":"2012-01-07","q":6.0,"rh":89,"ta":1.4,"ws":2.8,"cf":0.60,"sw":212,"lw":280},
{"t":"2012-01-13","q":6.1,"rh":88,"ta":1.2,"ws":2.6,"cf":0.62,"sw":208,"lw":292},
{"t":"2012-01-19","q":6.0,"rh":87,"ta":1.0,"ws":2.3,"cf":0.68,"sw":195,"lw":295},
{"t":"2012-01-25","q":6.0,"rh":86,"ta":1.2,"ws":2.3,"cf":0.72,"sw":200,"lw":296},
{"t":"2012-02-01","q":6.0,"rh":83,"ta":1.3,"ws":3.2,"cf":0.75,"sw":210,"lw":287},
{"t":"2012-02-07","q":6.0,"rh":82,"ta":0.9,"ws":3.6,"cf":0.78,"sw":215,"lw":284},
{"t":"2012-02-13","q":6.1,"rh":85,"ta":0.2,"ws":2.2,"cf":0.80,"sw":195,"lw":283},
{"t":"2012-02-19","q":6.1,"rh":88,"ta":0.4,"ws":1.9,"cf":0.74,"sw":175,"lw":284},
{"t":"2012-02-25","q":6.2,"rh":89,"ta":1.0,"ws":2.0,"cf":0.68,"sw":180,"lw":286},
{"t":"2012-03-01","q":6.2,"rh":89,"ta":1.3,"ws":2.0,"cf":0.67,"sw":195,"lw":286},
{"t":"2012-03-07","q":6.2,"rh":90,"ta":1.3,"ws":3.8,"cf":0.67,"sw":210,"lw":288},
{"t":"2012-03-13","q":6.3,"rh":90,"ta":1.2,"ws":5.1,"cf":0.67,"sw":212,"lw":290},
{"t":"2012-03-19","q":6.3,"rh":91,"ta":1.1,"ws":3.5,"cf":0.68,"sw":200,"lw":292},
{"t":"2012-03-25","q":6.3,"rh":91,"ta":1.1,"ws":3.2,"cf":0.72,"sw":185,"lw":294},
{"t":"2012-04-01","q":6.3,"rh":92,"ta":1.0,"ws":3.2,"cf":0.76,"sw":160,"lw":298},
{"t":"2012-04-07","q":6.3,"rh":92,"ta":0.8,"ws":3.2,"cf":0.88,"sw":140,"lw":302},
{"t":"2012-04-13","q":6.2,"rh":91,"ta":0.8,"ws":3.0,"cf":0.86,"sw":150,"lw":300},
{"t":"2012-04-19","q":6.2,"rh":90,"ta":1.0,"ws":2.5,"cf":0.76,"sw":175,"lw":296},
{"t":"2012-04-25","q":6.2,"rh":90,"ta":1.1,"ws":3.2,"cf":0.70,"sw":200,"lw":292},
{"t":"2012-05-01","q":6.2,"rh":89,"ta":1.1,"ws":4.0,"cf":0.68,"sw":212,"lw":290},
{"t":"2012-05-07","q":6.1,"rh":88,"ta":1.1,"ws":4.4,"cf":0.67,"sw":205,"lw":290},
{"t":"2012-05-13","q":6.0,"rh":85,"ta":1.1,"ws":4.7,"cf":0.70,"sw":200,"lw":290},
{"t":"2012-05-19","q":5.7,"rh":81,"ta":1.3,"ws":5.0,"cf":0.72,"sw":215,"lw":288},
{"t":"2012-05-25","q":5.6,"rh":78,"ta":1.6,"ws":5.8,"cf":0.58,"sw":255,"lw":270},
{"t":"2012-06-01","q":5.6,"rh":76,"ta":1.6,"ws":6.3,"cf":0.50,"sw":260,"lw":254},
{"t":"2012-06-07","q":5.6,"rh":75,"ta":1.3,"ws":5.6,"cf":0.40,"sw":268,"lw":258},
{"t":"2012-06-13","q":5.7,"rh":76,"ta":0.8,"ws":5.1,"cf":0.50,"sw":265,"lw":268},
{"t":"2012-06-19","q":5.8,"rh":78,"ta":0.2,"ws":5.4,"cf":0.60,"sw":250,"lw":280},
{"t":"2012-06-25","q":5.8,"rh":84,"ta":-0.2,"ws":5.8,"cf":0.55,"sw":240,"lw":280},
{"t":"2012-07-01","q":5.7,"rh":90,"ta":0.6,"ws":5.8,"cf":0.50,"sw":237,"lw":274},
{"t":"2012-07-07","q":5.5,"rh":84,"ta":1.0,"ws":6.1,"cf":0.42,"sw":250,"lw":268},
{"t":"2012-07-13","q":5.2,"rh":79,"ta":0.9,"ws":6.8,"cf":0.38,"sw":258,"lw":266},
{"t":"2012-07-19","q":5.1,"rh":78,"ta":0.8,"ws":7.8,"cf":0.42,"sw":252,"lw":266},
{"t":"2012-07-25","q":5.1,"rh":79,"ta":0.7,"ws":7.0,"cf":0.48,"sw":250,"lw":268},
{"t":"2012-08-01","q":5.1,"rh":78,"ta":0.6,"ws":5.8,"cf":0.48,"sw":258,"lw":267},
{"t":"2012-08-07","q":5.1,"rh":76,"ta":0.5,"ws":6.6,"cf":0.42,"sw":268,"lw":267},
{"t":"2012-08-13","q":5.1,"rh":73,"ta":0.4,"ws":7.4,"cf":0.40,"sw":265,"lw":266},
{"t":"2012-08-19","q":5.0,"rh":74,"ta":0.2,"ws":6.8,"cf":0.45,"sw":255,"lw":264},
{"t":"2012-08-25","q":5.1,"rh":75,"ta":0.05,"ws":7.5,"cf":0.47,"sw":262,"lw":262},
{"t":"2012-09-01","q":5.0,"rh":74,"ta":0.4,"ws":8.6,"cf":0.44,"sw":270,"lw":254},
{"t":"2012-09-07","q":4.7,"rh":68,"ta":0.9,"ws":8.8,"cf":0.40,"sw":295,"lw":246},
{"t":"2012-09-13","q":4.6,"rh":63,"ta":1.0,"ws":8.0,"cf":0.34,"sw":300,"lw":248},
{"t":"2012-09-19","q":5.0,"rh":66,"ta":1.1,"ws":6.0,"cf":0.34,"sw":285,"lw":262},
{"t":"2012-09-25","q":5.5,"rh":75,"ta":1.2,"ws":3.8,"cf":0.40,"sw":250,"lw":272},
{"t":"2012-10-01","q":5.9,"rh":83,"ta":1.2,"ws":3.0,"cf":0.62,"sw":237,"lw":282},
{"t":"2012-10-07","q":6.1,"rh":85,"ta":1.2,"ws":2.4,"cf":0.72,"sw":232,"lw":290},
{"t":"2012-10-13","q":6.2,"rh":86,"ta":1.2,"ws":2.2,"cf":0.70,"sw":222,"lw":286},
{"t":"2012-10-19","q":6.0,"rh":86,"ta":1.2,"ws":2.2,"cf":0.67,"sw":208,"lw":284},
{"t":"2012-10-25","q":5.8,"rh":85,"ta":1.3,"ws":2.0,"cf":0.68,"sw":204,"lw":290},
{"t":"2012-11-01","q":5.7,"rh":85,"ta":1.3,"ws":2.1,"cf":0.70,"sw":210,"lw":292},
{"t":"2012-11-07","q":5.8,"rh":84,"ta":1.4,"ws":2.0,"cf":0.74,"sw":215,"lw":288},
{"t":"2012-11-13","q":6.0,"rh":82,"ta":1.5,"ws":1.9,"cf":0.77,"sw":220,"lw":288},
{"t":"2012-11-19","q":6.1,"rh":81,"ta":1.6,"ws":2.1,"cf":0.72,"sw":225,"lw":287},
{"t":"2012-11-25","q":6.1,"rh":81,"ta":1.6,"ws":2.2,"cf":0.66,"sw":226,"lw":288},
{"t":"2012-12-01","q":5.8,"rh":80,"ta":1.5,"ws":3.2,"cf":0.67,"sw":226,"lw":288},
{"t":"2012-12-07","q":5.8,"rh":79,"ta":1.5,"ws":3.6,"cf":0.66,"sw":226,"lw":288},
{"t":"2012-12-13","q":6.0,"rh":81,"ta":1.3,"ws":2.6,"cf":0.63,"sw":226,"lw":289},
{"t":"2012-12-19","q":6.1,"rh":84,"ta":1.3,"ws":2.2,"cf":0.60,"sw":226,"lw":290},
{"t":"2012-12-25","q":6.1,"rh":83,"ta":1.5,"ws":3.5,"cf":0.55,"sw":228,"lw":292},
{"t":"2013-01-01","q":6.0,"rh":83,"ta":1.6,"ws":5.9,"cf":0.46,"sw":235,"lw":280},
{"t":"2013-01-07","q":5.9,"rh":82,"ta":1.7,"ws":5.4,"cf":0.48,"sw":252,"lw":262},
{"t":"2013-01-13","q":5.9,"rh":84,"ta":2.0,"ws":3.8,"cf":0.50,"sw":258,"lw":263},
{"t":"2013-01-19","q":6.0,"rh":86,"ta":2.2,"ws":2.8,"cf":0.44,"sw":250,"lw":268},
{"t":"2013-01-25","q":6.2,"rh":88,"ta":2.3,"ws":2.2,"cf":0.42,"sw":240,"lw":290},
{"t":"2013-02-01","q":6.5,"rh":91,"ta":2.2,"ws":1.8,"cf":0.58,"sw":200,"lw":300},
{"t":"2013-02-07","q":6.7,"rh":90,"ta":1.8,"ws":1.5,"cf":0.79,"sw":165,"lw":304},
{"t":"2013-02-13","q":6.7,"rh":89,"ta":1.5,"ws":2.2,"cf":0.76,"sw":168,"lw":306},
{"t":"2013-02-19","q":6.6,"rh":88,"ta":1.7,"ws":3.4,"cf":0.72,"sw":180,"lw":302},
{"t":"2013-02-25","q":6.6,"rh":88,"ta":2.0,"ws":3.8,"cf":0.72,"sw":183,"lw":296},
{"t":"2013-03-01","q":6.6,"rh":88,"ta":2.1,"ws":3.4,"cf":0.72,"sw":185,"lw":292},
{"t":"2013-03-07","q":6.6,"rh":87,"ta":2.2,"ws":2.8,"cf":0.72,"sw":190,"lw":290},
{"t":"2013-03-13","q":6.6,"rh":87,"ta":2.2,"ws":3.0,"cf":0.73,"sw":195,"lw":290},
{"t":"2013-03-19","q":6.6,"rh":86,"ta":2.3,"ws":3.4,"cf":0.73,"sw":204,"lw":288},
{"t":"2013-03-25","q":6.6,"rh":87,"ta":2.4,"ws":3.6,"cf":0.70,"sw":206,"lw":292},
{"t":"2013-04-01","q":6.6,"rh":88,"ta":2.5,"ws":3.8,"cf":0.66,"sw":210,"lw":294},
{"t":"2013-04-07","q":6.7,"rh":87,"ta":2.6,"ws":3.6,"cf":0.62,"sw":220,"lw":298},
{"t":"2013-04-13","q":6.5,"rh":86,"ta":2.2,"ws":3.3,"cf":0.62,"sw":226,"lw":292},
{"t":"2013-04-19","q":5.8,"rh":79,"ta":1.9,"ws":3.2,"cf":0.64,"sw":222,"lw":288},
{"t":"2013-04-25","q":5.6,"rh":78,"ta":1.7,"ws":3.0,"cf":0.62,"sw":215,"lw":290},
{"t":"2013-05-01","q":5.8,"rh":80,"ta":1.5,"ws":2.6,"cf":0.66,"sw":205,"lw":295},
{"t":"2013-05-07","q":6.6,"rh":87,"ta":1.3,"ws":2.3,"cf":0.70,"sw":195,"lw":300},
{"t":"2013-05-13","q":6.8,"rh":93,"ta":1.3,"ws":2.2,"cf":0.72,"sw":183,"lw":302}
],
"s": [
{"t":"2011-07-01","v":341},{"t":"2011-07-20","v":345},{"t":"2011-08-10","v":358},{"t":"2011-09-01","v":372},{"t":"2011-09-20","v":382},{"t":"2011-10-10","v":386},{"t":"2011-10-31","v":383},{"t":"2011-11-20","v":370},{"t":"2011-12-10","v":354},{"t":"2011-12-25","v":345},
{"t":"2012-01-10","v":346},{"t":"2012-01-31","v":358},{"t":"2012-02-20","v":373},{"t":"2012-03-10","v":383},{"t":"2012-03-25","v":385},{"t":"2012-04-15","v":378},{"t":"2012-05-10","v":364},{"t":"2012-06-01","v":351},{"t":"2012-06-21","v":343},{"t":"2012-07-10","v":342},
{"t":"2012-07-31","v":350},{"t":"2012-08-20","v":363},{"t":"2012-09-10","v":376},{"t":"2012-09-30","v":384},{"t":"2012-10-20","v":386},{"t":"2012-11-10","v":380},{"t":"2012-11-30","v":366},{"t":"2012-12-20","v":350},{"t":"2013-01-05","v":345},{"t":"2013-01-25","v":352},
{"t":"2013-02-15","v":368},{"t":"2013-03-05","v":380},{"t":"2013-03-25","v":385},{"t":"2013-04-15","v":380},{"t":"2013-05-05","v":372},{"t":"2013-05-20","v":364}
]
},
"config": {
 "view": {"stroke": "#1a1a1a", "strokeWidth": 2},
 "axis": {"grid": false, "domain": false, "ticks": true, "tickColor": "#1a1a1a", "tickWidth": 2, "tickSize": -5, "labelFont": "DejaVu Sans", "labelFontWeight": "bold", "labelFontSize": 17, "labelColor": "#1a1a1a", "titleFont": "DejaVu Sans", "titleFontWeight": "bold", "titleFontSize": 16, "titleColor": "#1a1a1a"},
 "axisY": {"titleAngle": 0, "titleAlign": "right", "titleBaseline": "middle", "titleX": -59, "labelPadding": 10, "labelExpr": "'' + datum.value"},
 "axisX": {"labelPadding": 16, "labelFontSize": 18, "labelFlush": false, "labelOverlap": false, "tickCount": {"interval": "month", "step": 1}}
},
"vconcat": [
{"width": 746, "height": 64, "layer": [
 {"data": {"name": "d"}, "mark": {"type": "line", "color": "#999999", "strokeWidth": 2.5, "clip": true},
  "encoding": {"x": {"field": "t", "type": "temporal", "scale": {"type": "utc", "domain": [{"year": 2011, "month": 7, "date": 2, "utc": true}, {"year": 2013, "month": 5, "date": 18, "utc": true}]}, "axis": {"orient": "bottom", "labels": false, "title": null}},
   "y": {"field": "q", "type": "quantitative", "scale": {"domain": [0, 8.2], "nice": false, "zero": false}, "axis": {"values": [0, 3, 6], "title": "q (g kg\u207b\u00b9)", "titleY": 35, "labelExpr": "'' + datum.value"}}}},
 {"data": {"name": "m"}, "mark": {"type": "line", "color": "#000000", "strokeWidth": 2.8, "clip": true},
  "encoding": {"x": {"field": "t", "type": "temporal", "scale": {"type": "utc"}, "axis": {"orient": "top", "labels": false, "title": null}},
   "y": {"field": "q", "type": "quantitative", "axis": {"orient": "right", "values": [0, 3, 6], "labels": false, "title": null}}}}
 ], "resolve": {"axis": {"x": "independent", "y": "independent"}}},
{"width": 746, "height": 64, "layer": [
 {"data": {"name": "d"}, "mark": {"type": "line", "color": "#999999", "strokeWidth": 2.5, "clip": true},
  "encoding": {"x": {"field": "t", "type": "temporal", "scale": {"type": "utc", "domain": [{"year": 2011, "month": 7, "date": 2, "utc": true}, {"year": 2013, "month": 5, "date": 18, "utc": true}]}, "axis": {"orient": "bottom", "labels": false, "title": null}},
   "y": {"field": "rh", "type": "quantitative", "scale": {"domain": [0, 102], "nice": false, "zero": false}, "axis": {"values": [0, 50, 100], "title": "RH (%)", "titleY": 32, "labelExpr": "'' + datum.value"}}}},
 {"data": {"name": "m"}, "mark": {"type": "line", "color": "#000000", "strokeWidth": 2.8, "clip": true},
  "encoding": {"x": {"field": "t", "type": "temporal", "scale": {"type": "utc"}, "axis": {"orient": "top", "labels": false, "title": null}},
   "y": {"field": "rh", "type": "quantitative", "axis": {"orient": "right", "values": [0, 50, 100], "labels": false, "title": null}}}}
 ], "resolve": {"axis": {"x": "independent", "y": "independent"}}},
{"width": 746, "height": 64, "layer": [
 {"data": {"name": "d"}, "mark": {"type": "line", "color": "#999999", "strokeWidth": 2.5, "clip": true},
  "encoding": {"x": {"field": "t", "type": "temporal", "scale": {"type": "utc", "domain": [{"year": 2011, "month": 7, "date": 2, "utc": true}, {"year": 2013, "month": 5, "date": 18, "utc": true}]}, "axis": {"orient": "bottom", "labels": false, "title": null}},
   "y": {"field": "ta", "type": "quantitative", "scale": {"domain": [-3, 4], "nice": false, "zero": false}, "axis": {"values": [-2, 1, 4], "title": "T (\u00b0C)", "titleY": 30, "labelExpr": "'' + datum.value"}}}},
 {"data": {"name": "m"}, "mark": {"type": "line", "color": "#000000", "strokeWidth": 2.8, "clip": true},
  "encoding": {"x": {"field": "t", "type": "temporal", "scale": {"type": "utc"}, "axis": {"orient": "top", "labels": false, "title": null}},
   "y": {"field": "ta", "type": "quantitative", "axis": {"orient": "right", "values": [-2, 1, 4], "labels": false, "title": null}}}}
 ], "resolve": {"axis": {"x": "independent", "y": "independent"}}},
{"width": 746, "height": 64, "layer": [
 {"data": {"name": "d"}, "mark": {"type": "line", "color": "#999999", "strokeWidth": 2.5, "clip": true},
  "encoding": {"x": {"field": "t", "type": "temporal", "scale": {"type": "utc", "domain": [{"year": 2011, "month": 7, "date": 2, "utc": true}, {"year": 2013, "month": 5, "date": 18, "utc": true}]}, "axis": {"orient": "bottom", "labels": false, "title": null}},
   "y": {"field": "ws", "type": "quantitative", "scale": {"domain": [0, 12], "nice": false, "zero": false}, "axis": {"values": [0, 5, 10], "title": "WS ( ms\u207b\u00b9)", "titleY": 28, "labelExpr": "'' + datum.value"}}}},
 {"data": {"name": "m"}, "mark": {"type": "line", "color": "#000000", "strokeWidth": 2.8, "clip": true},
  "encoding": {"x": {"field": "t", "type": "temporal", "scale": {"type": "utc"}, "axis": {"orient": "top", "labels": false, "title": null}},
   "y": {"field": "ws", "type": "quantitative", "axis": {"orient": "right", "values": [0, 5, 10], "labels": false, "title": null}}}}
 ], "resolve": {"axis": {"x": "independent", "y": "independent"}}},
{"width": 746, "height": 64, "layer": [
 {"data": {"name": "d"}, "mark": {"type": "line", "color": "#999999", "strokeWidth": 2.5, "clip": true},
  "encoding": {"x": {"field": "t", "type": "temporal", "scale": {"type": "utc", "domain": [{"year": 2011, "month": 7, "date": 2, "utc": true}, {"year": 2013, "month": 5, "date": 18, "utc": true}]}, "axis": {"orient": "bottom", "labels": false, "title": null}},
   "y": {"field": "cf", "type": "quantitative", "scale": {"domain": [0, 1.25], "nice": false, "zero": false}, "axis": {"values": [0, 0.6, 1.2], "title": "Cloud factor", "titleY": 33, "labelExpr": "'' + datum.value"}}}},
 {"data": {"name": "m"}, "mark": {"type": "line", "color": "#000000", "strokeWidth": 2.8, "clip": true},
  "encoding": {"x": {"field": "t", "type": "temporal", "scale": {"type": "utc"}, "axis": {"orient": "top", "labels": false, "title": null}},
   "y": {"field": "cf", "type": "quantitative", "axis": {"orient": "right", "values": [0, 0.6, 1.2], "labels": false, "title": null}}}}
 ], "resolve": {"axis": {"x": "independent", "y": "independent"}}},
{"width": 746, "height": 64, "layer": [
 {"data": {"name": "d"}, "mark": {"type": "line", "color": "#999999", "strokeWidth": 2.5, "clip": true},
  "encoding": {"x": {"field": "t", "type": "temporal", "scale": {"type": "utc", "domain": [{"year": 2011, "month": 7, "date": 2, "utc": true}, {"year": 2013, "month": 5, "date": 18, "utc": true}]}, "axis": {"orient": "bottom", "labels": false, "title": null}},
   "y": {"field": "sw", "type": "quantitative", "scale": {"domain": [0, 405], "nice": false, "zero": false}, "axis": {"values": [0, 200, 400], "title": "Swi (Wm\u207b\u00b2)", "titleY": 32, "labelExpr": "'' + datum.value"}}}},
 {"data": {"name": "m"}, "mark": {"type": "line", "color": "#000000", "strokeWidth": 2.8, "clip": true},
  "encoding": {"x": {"field": "t", "type": "temporal", "scale": {"type": "utc"}, "axis": {"orient": "top", "labels": false, "title": null}},
   "y": {"field": "sw", "type": "quantitative", "axis": {"orient": "right", "values": [0, 200, 400], "labels": false, "title": null}}}},
 {"data": {"name": "s"}, "mark": {"type": "line", "color": "#ff0000", "strokeWidth": 2.2, "interpolate": "monotone", "clip": true},
  "encoding": {"x": {"field": "t", "type": "temporal", "scale": {"type": "utc"}, "axis": null},
   "y": {"field": "v", "type": "quantitative", "axis": null}}}
 ], "resolve": {"axis": {"x": "independent", "y": "independent"}}},
{"width": 746, "height": 64, "layer": [
 {"data": {"name": "d"}, "mark": {"type": "line", "color": "#999999", "strokeWidth": 2.5, "clip": true},
  "encoding": {"x": {"field": "t", "type": "temporal", "scale": {"type": "utc", "domain": [{"year": 2011, "month": 7, "date": 2, "utc": true}, {"year": 2013, "month": 5, "date": 18, "utc": true}]}, "axis": {"orient": "bottom", "labelExpr": "utcmonth(datum.value) % 3 == 1 ? utcFormat(datum.value, '%b-%y') : ''", "title": "Summary of daily mean (gray line) meteorological conditions measured at AWS SAMA-1 (4,753 m a.s.l.). Thick black lines represent the 15-day running", "titleFont": "Liberation Sans", "titleFontWeight": "normal", "titleFontSize": 15, "titleColor": "#1a1a1a", "titleAlign": "left", "titleAnchor": "start", "titleBaseline": "top", "titleX": -280, "titleY": 53, "titleLimit": 2000}},
   "y": {"field": "lw", "type": "quantitative", "scale": {"domain": [200, 352], "nice": false, "zero": false}, "axis": {"values": [250, 350], "title": "Lwi (Wm\u207b\u00b2)", "titleY": 36, "labelExpr": "'' + datum.value"}}}},
 {"data": {"name": "m"}, "mark": {"type": "line", "color": "#000000", "strokeWidth": 2.8, "clip": true},
  "encoding": {"x": {"field": "t", "type": "temporal", "scale": {"type": "utc"}, "axis": {"orient": "top", "labels": false, "title": "Eq. 1.", "titleFont": "Liberation Sans", "titleFontWeight": "bold", "titleFontSize": 15, "titleColor": "#1a1a1a", "titleAlign": "left", "titleAnchor": "start", "titleBaseline": "top", "titleX": 539, "titleY": 157.6, "titleLimit": 200}},
   "y": {"field": "lw", "type": "quantitative", "axis": {"orient": "right", "values": [250, 350], "labels": false, "title": null}}}}
 ], "resolve": {"axis": {"x": "independent", "y": "independent"}}}
]
}
